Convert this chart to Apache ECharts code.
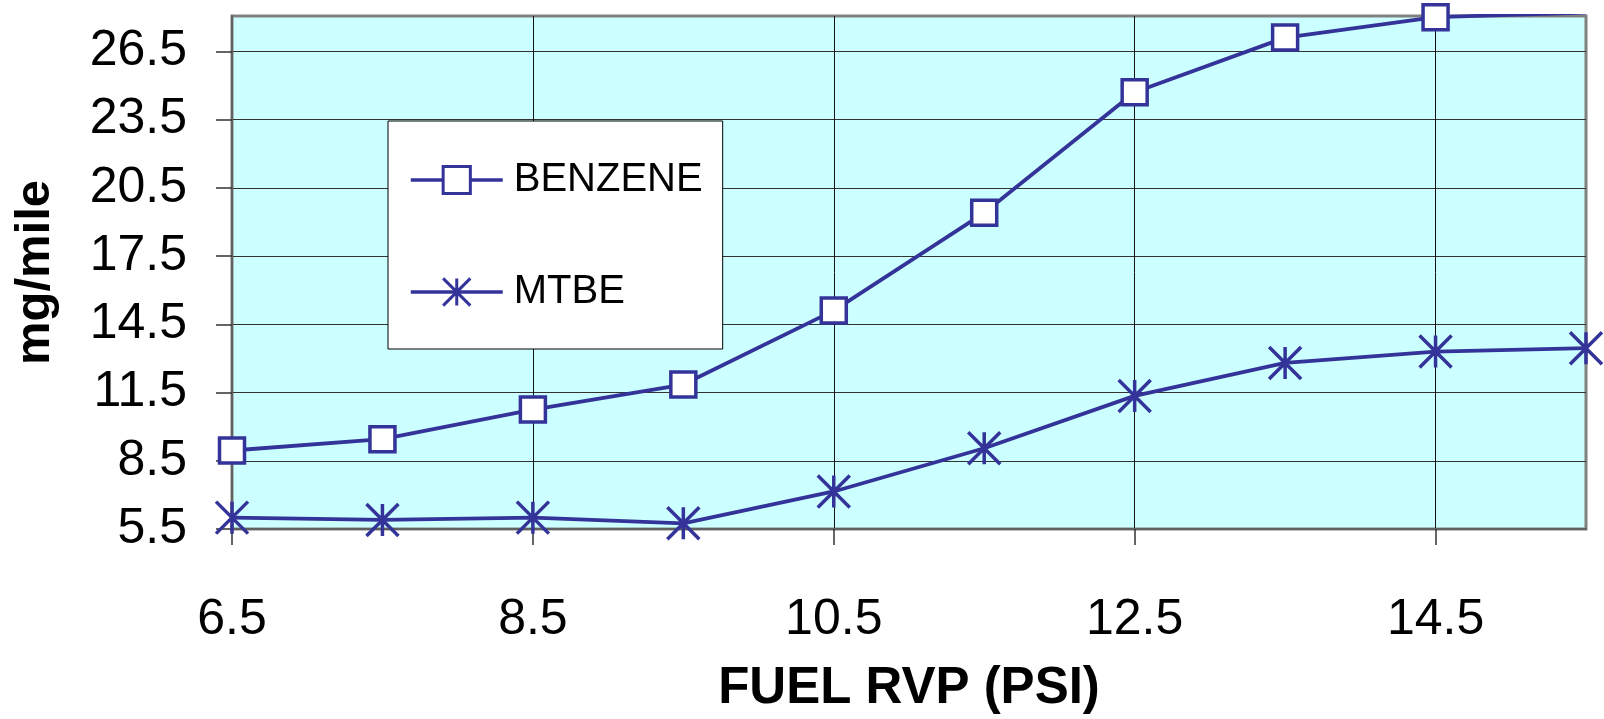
<!DOCTYPE html>
<html>
<head>
<meta charset="utf-8">
<script src="https://cdn.jsdelivr.net/npm/echarts@6/dist/echarts.min.js"></script>
<style>
  html, body { margin: 0; padding: 0; background: #ffffff; }
  #chart { width: 1604px; height: 719px; }
</style>
</head>
<body>
<div id="chart"></div>
<script>
// Fuel RVP (psi) sampled at 1-psi steps
const rvp = [6.5, 7.5, 8.5, 9.5, 10.5, 11.5, 12.5, 13.5, 14.5, 15.5];
// Emissions in mg/mile
const benzene = [8.95, 9.45, 10.75, 11.85, 15.1, 19.4, 24.7, 27.1, 28.0, 28.2];
const mtbe = [6.0, 5.9, 6.0, 5.75, 7.15, 9.05, 11.35, 12.8, 13.3, 13.45];
// Tick labels
const xTicks = [6.5, 8.5, 10.5, 12.5, 14.5];
const yTicks = [5.5, 8.5, 11.5, 14.5, 17.5, 20.5, 23.5, 26.5];

const FONT = "Arial, 'Liberation Sans', sans-serif";
const NAVY = '#333399';
const STAR = 'path://M0,0L10,10M10,0L0,10M5,0L5,10';

const pairs = (ys) => rvp.map((x, i) => [x, ys[i]]);

const chart = echarts.init(document.getElementById('chart'), null, { renderer: 'canvas' });
chart.setOption({
  animation: false,
  backgroundColor: '#ffffff',
  grid: {
    left: 232, right: 18, top: 16, bottom: 190,
    containLabel: false,
    outerBoundsMode: 'none',
    show: true,
    backgroundColor: '#ccffff',
    borderColor: '#808080',
    borderWidth: 3
  },
  legend: {
    orient: 'vertical',
    left: 388, top: 121,
    padding: [39, 20, 37, 21],
    itemWidth: 92,
    itemHeight: 34,
    itemGap: 72,
    backgroundColor: '#ffffff',
    borderColor: '#000000',
    borderWidth: 1,
    borderRadius: 0,
    lineStyle: { width: 3.5 },
    itemStyle: { borderWidth: 3 },
    textStyle: { fontFamily: FONT, fontSize: 40, color: '#000', lineHeight: 40, padding: [0, 0, 0, 6] },
    data: ['BENZENE', 'MTBE']
  },
  xAxis: {
    type: 'value',
    min: 6.5, max: 15.5, interval: 2,
    name: 'FUEL RVP (PSI)',
    nameLocation: 'middle',
    nameGap: 134,
    nameTextStyle: { fontFamily: FONT, fontSize: 51, fontWeight: 'bold', color: '#000' },
    axisLine: { show: true, onZero: false, lineStyle: { color: '#606060', width: 2 } },
    axisTick: { show: true, length: 16, customValues: xTicks, lineStyle: { color: '#333', width: 1.5 } },
    axisLabel: { customValues: xTicks, margin: 66, fontFamily: FONT, fontSize: 50, color: '#000' },
    splitLine: { show: true, lineStyle: { color: '#111', width: 1 } }
  },
  yAxis: {
    type: 'value',
    min: 5.5, max: 28.05, interval: 3,
    name: 'mg/mile',
    nameLocation: 'middle',
    nameGap: 172,
    nameTextStyle: { fontFamily: FONT, fontSize: 49, fontWeight: 'bold', color: '#000' },
    axisLine: { show: true, onZero: false, lineStyle: { color: '#606060', width: 2 } },
    axisTick: { show: true, length: 16, customValues: yTicks, lineStyle: { color: '#333', width: 1.5 } },
    axisLabel: { customValues: yTicks, margin: 45, fontFamily: FONT, fontSize: 50, color: '#000' },
    splitLine: { show: true, lineStyle: { color: '#333', width: 1.2 } }
  },
  series: [
    {
      name: 'BENZENE',
      type: 'line',
      data: pairs(benzene),
      clip: true,
      symbol: 'rect',
      symbolSize: 25,
      lineStyle: { color: NAVY, width: 3.8 },
      itemStyle: { color: '#ffffff', borderColor: NAVY, borderWidth: 3.5 },
      z: 3
    },
    {
      name: 'MTBE',
      type: 'line',
      data: pairs(mtbe),
      clip: true,
      symbol: STAR,
      symbolSize: 32,
      lineStyle: { color: NAVY, width: 3.8 },
      itemStyle: { color: NAVY, borderColor: NAVY, borderWidth: 3.5 },
      z: 3
    }
  ]
});
</script>
</body>
</html>
